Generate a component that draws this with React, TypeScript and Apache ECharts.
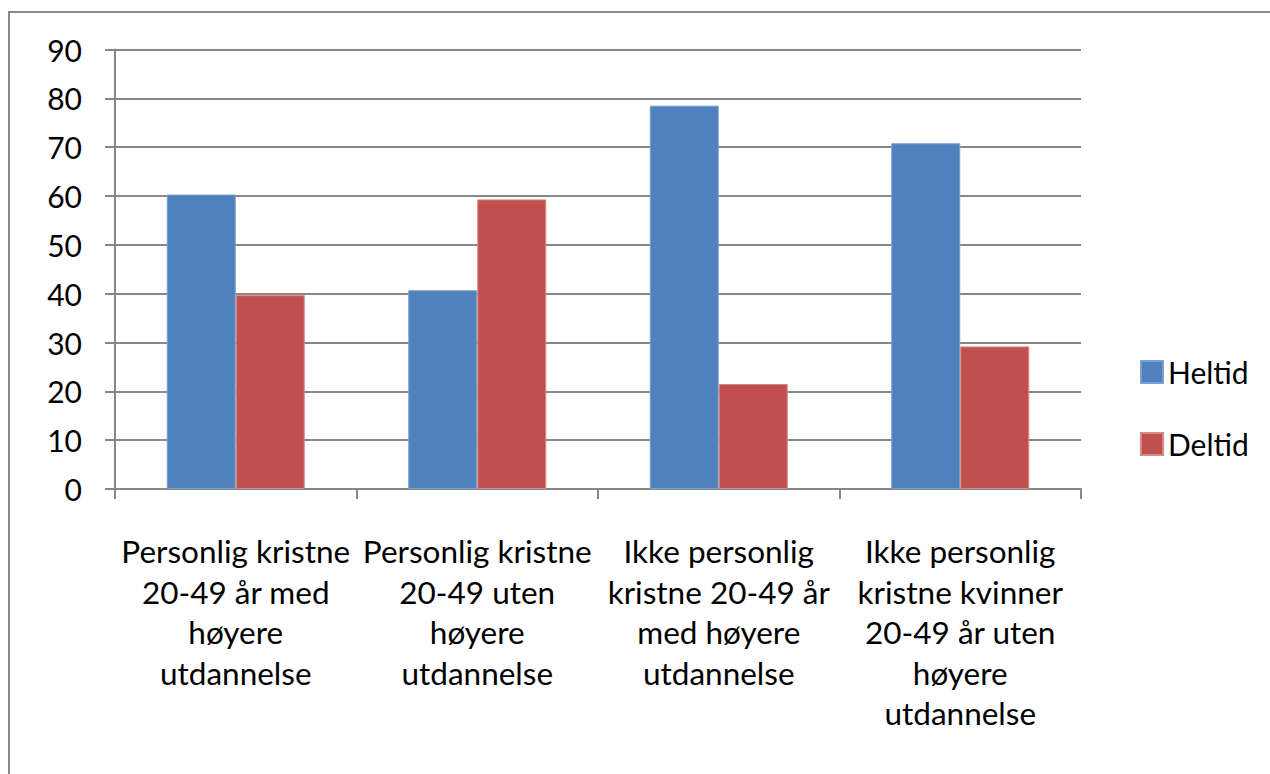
import React, { useEffect, useRef } from "react";
import * as echarts from "echarts";

const categories = [
  "Personlig kristne\n20-49 år med\nhøyere\nutdannelse",
  "Personlig kristne\n20-49 uten\nhøyere\nutdannelse",
  "Ikke personlig\nkristne 20-49 år\nmed høyere\nutdannelse",
  "Ikke personlig\nkristne kvinner\n20-49 år uten\nhøyere\nutdannelse",
];
const heltid = [60.3, 40.7, 78.5, 70.8];
const deltid = [39.7, 59.3, 21.5, 29.2];

const FONT = "Lato, 'Open Sans', sans-serif";
const GRAY = "#878787";

export default function App() {
  const ref = useRef<HTMLDivElement>(null);
  useEffect(() => {
    if (!ref.current) return;
    const chart = echarts.init(ref.current, undefined, { renderer: "svg" });
    chart.setOption({
      animation: false,
      backgroundColor: "#ffffff",
      textStyle: { fontFamily: FONT },
      graphic: [
        {
          type: "rect",
          shape: { x: 9, y: 12, width: 1400, height: 900 },
          style: { fill: "none", stroke: GRAY, lineWidth: 2 },
          silent: true,
        },
      ],
      grid: { left: 115, right: 189, top: 49.5, bottom: 285, containLabel: false },
      legend: {
        orient: "vertical",
        left: 1135,
        top: 352,
        itemWidth: 22,
        itemHeight: 22,
        itemGap: 42,
        icon: "rect",
        textStyle: { fontSize: 30, color: "#000", fontFamily: FONT },
        data: ["Heltid", "Deltid"],
      },
      xAxis: {
        type: "category",
        data: categories,
        axisLine: { lineStyle: { color: GRAY, width: 2 } },
        axisTick: { show: true, length: 10, lineStyle: { color: GRAY, width: 2 } },
        axisLabel: {
          interval: 0,
          color: "#000",
          fontSize: 31.5,
          lineHeight: 40.5,
          margin: 42,
          align: "center",
          fontFamily: FONT,
        },
      },
      yAxis: {
        type: "value",
        min: 0,
        max: 90,
        interval: 10,
        axisLine: { show: true, lineStyle: { color: GRAY, width: 2 } },
        axisTick: { show: true, length: 10, lineStyle: { color: GRAY, width: 2 } },
        splitLine: { show: true, lineStyle: { color: GRAY, width: 2 } },
        axisLabel: { color: "#000", fontSize: 30, margin: 33, fontFamily: FONT },
      },
      series: [
        {
          name: "Heltid",
          type: "bar",
          data: heltid,
          barWidth: 69,
          barGap: "0%",
          itemStyle: { color: "#4F81BD", borderColor: "#7A9FD0", borderWidth: 1 },
        },
        {
          name: "Deltid",
          type: "bar",
          data: deltid,
          barWidth: 69,
          barGap: "0%",
          itemStyle: { color: "#C0504D", borderColor: "#D88884", borderWidth: 1 },
        },
      ],
    });
    return () => chart.dispose();
  }, []);
  return (
    <div
      ref={ref}
      style={{ position: "fixed", left: 0, top: 0, width: 1270, height: 774, background: "#fff" }}
    />
  );
}
